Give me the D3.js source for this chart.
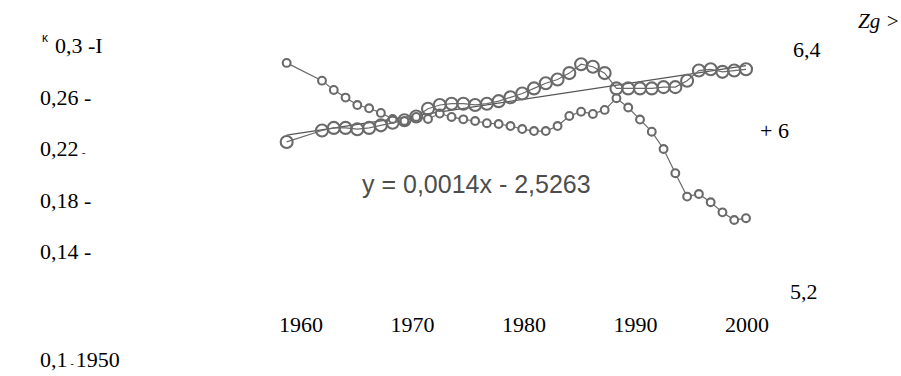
<!DOCTYPE html>
<html>
<head>
<meta charset="utf-8">
<script src="https://cdn.jsdelivr.net/npm/d3@7"></script>
<style>
  body { margin: 0; background: #fff; }
  svg { display: block; }
</style>
</head>
<body>
<svg id="chart" width="901" height="376"></svg>
<script>
// Observation years (one early reading, then annual series)
const years = [1959,
  1962, 1963, 1964, 1965, 1966, 1967, 1968, 1969, 1970, 1971,
  1972, 1973, 1974, 1975, 1976, 1977, 1978, 1979, 1980, 1981,
  1982, 1983, 1984, 1985, 1986, 1987, 1988, 1989, 1990, 1991,
  1992, 1993, 1994, 1995, 1996, 1997, 1998];

// Coefficient (left axis), large markers
const coefValues = [0.211,
  0.220, 0.222, 0.222, 0.221, 0.222, 0.224, 0.226, 0.228, 0.231, 0.237,
  0.240, 0.241, 0.241, 0.240, 0.241, 0.243, 0.246, 0.249, 0.253, 0.257,
  0.260, 0.265, 0.272, 0.270, 0.265, 0.253, 0.253, 0.253, 0.253, 0.254,
  0.254, 0.259, 0.267, 0.268, 0.266, 0.267, 0.268];

// Index (right axis), small markers
const indexValues = [6.336,
  6.248, 6.202, 6.164, 6.127, 6.111, 6.088, 6.058, 6.048, 6.068, 6.058,
  6.085, 6.068, 6.056, 6.048, 6.037, 6.033, 6.023, 6.008, 5.998, 5.998,
  6.023, 6.073, 6.094, 6.083, 6.103, 6.161, 6.115, 6.055, 5.995, 5.909,
  5.789, 5.673, 5.686, 5.645, 5.595, 5.557, 5.566];

// Linear trend of the coefficient: y = slope * year + intercept
const trendSlope = 0.0014;
const trendIntercept = -2.5263;
const equationLabel = "y = 0,0014x - 2,5263";

// Tick labels
const leftTickLabels = ["0,3 -I", "0,26 -", "0,22", "0,18 -", "0,14 -"];
const rightTickValues = [6.4, 6, 5.2];
const rightTickLabels = ["6,4", "+ 6", "5,2"];
const xTickLabels = ["1960", "1970", "1980", "1990", "2000"];
const cornerLabels = ["0,1", "1950"];
const rightTitle = "Zg >";
const leftTitle = "\u0138";

const svg = d3.select("#chart");
const serif = "'Liberation Serif', 'Times New Roman', serif";
const sans = "'Liberation Sans', Arial, sans-serif";
const markColor = "#6a6a6a";

// Scales
const x = d3.scaleLinear().domain([1962, 1998]).range([322, 746]);
const yLeft = d3.scaleLinear().domain([0.1, 0.3]).range([283.4, 28.5]);
const yRight = d3.scaleLinear().domain([5.2, 6.4]).range([292, 50]);
const xLabelPos = d3.scalePoint().domain(xTickLabels).range([301, 747]);
const yLabelPos = d3.scalePoint().domain(leftTickLabels).range([53, 259]);

const coefData = years.map((yr, i) => ({ year: yr, v: coefValues[i] }));
const indexData = years.map((yr, i) => ({ year: yr, v: indexValues[i] }));

// Trend line across the observed period
const trendEnds = d3.extent(years).map(yr => ({ year: yr, v: trendSlope * yr + trendIntercept }));
svg.append("path")
  .datum(trendEnds)
  .attr("fill", "none")
  .attr("stroke", "#555")
  .attr("stroke-width", 1.3)
  .attr("d", d3.line().x(d => x(d.year)).y(d => yLeft(d.v)));

// Series lines
svg.append("path")
  .datum(indexData)
  .attr("fill", "none")
  .attr("stroke", markColor)
  .attr("stroke-width", 1.2)
  .attr("d", d3.line().x(d => x(d.year)).y(d => yRight(d.v)));

svg.append("path")
  .datum(coefData)
  .attr("fill", "none")
  .attr("stroke", markColor)
  .attr("stroke-width", 1.2)
  .attr("d", d3.line().x(d => x(d.year)).y(d => yLeft(d.v)));

// Markers
svg.append("g").selectAll("circle")
  .data(indexData).join("circle")
  .attr("cx", d => x(d.year))
  .attr("cy", d => yRight(d.v))
  .attr("r", 3.9)
  .attr("fill", "#fff")
  .attr("stroke", markColor)
  .attr("stroke-width", 2.1);

svg.append("g").selectAll("circle")
  .data(coefData).join("circle")
  .attr("cx", d => x(d.year))
  .attr("cy", d => yLeft(d.v))
  .attr("r", 6)
  .attr("fill", "none")
  .attr("stroke", markColor)
  .attr("stroke-width", 2.1);

// Regression equation
svg.append("text")
  .attr("x", 362).attr("y", 193)
  .attr("font-family", sans).attr("font-size", 25)
  .attr("fill", "#4d4d4d")
  .text(equationLabel);

// Left axis labels
const leftG = svg.append("g")
  .attr("font-family", serif).attr("font-size", 22).attr("fill", "#000");
leftG.selectAll("text")
  .data(leftTickLabels).join("text")
  .attr("x", (d, i) => i === 0 ? 55 : 40)
  .attr("y", d => yLabelPos(d))
  .text(d => d);
leftG.append("text")
  .attr("x", 82).attr("y", yLabelPos("0,22"))
  .attr("font-size", 10).text("-");
svg.append("text")
  .attr("x", 42).attr("y", 42)
  .attr("font-family", sans).attr("font-size", 12).attr("fill", "#000")
  .text(leftTitle);

// Bottom-left corner labels
const corner = svg.append("text")
  .attr("x", 40).attr("y", 367)
  .attr("font-family", serif).attr("font-size", 22).attr("fill", "#000");
corner.append("tspan").text(cornerLabels[0]);
corner.append("tspan").attr("font-size", 10).attr("dx", 3).text("-");
corner.append("tspan").attr("dx", 2).text(cornerLabels[1]);

// Year labels
svg.append("g")
  .attr("font-family", serif).attr("font-size", 22).attr("fill", "#000")
  .selectAll("text")
  .data(xTickLabels).join("text")
  .attr("x", d => xLabelPos(d))
  .attr("y", 332)
  .attr("text-anchor", "middle")
  .text(d => d);

// Right axis labels
const rightX = [793, 760, 790];
svg.append("g")
  .attr("font-family", serif).attr("font-size", 22).attr("fill", "#000")
  .selectAll("text")
  .data(rightTickValues).join("text")
  .attr("x", (d, i) => rightX[i])
  .attr("y", d => yRight(d) + 7)
  .text((d, i) => rightTickLabels[i]);

svg.append("text")
  .attr("x", 858).attr("y", 28)
  .attr("font-family", serif).attr("font-size", 21).attr("font-style", "italic")
  .attr("fill", "#000")
  .text(rightTitle);
</script>
</body>
</html>
